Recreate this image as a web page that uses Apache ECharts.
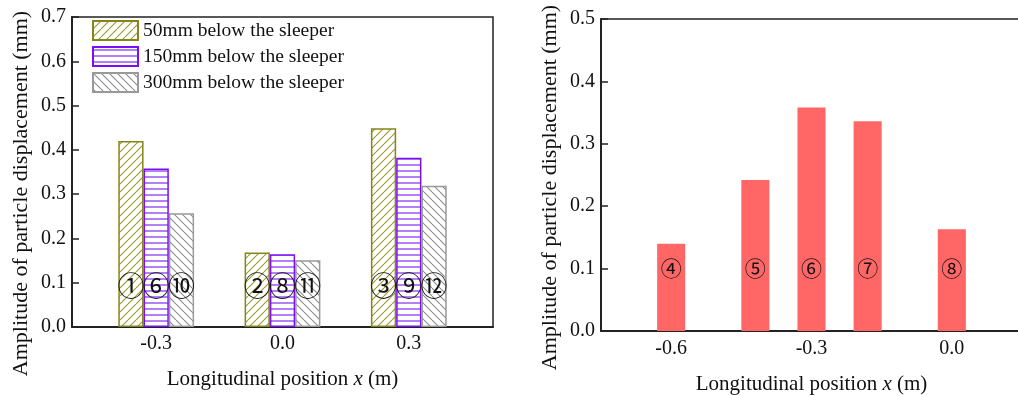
<!DOCTYPE html>
<html>
<head>
<meta charset="utf-8">
<script src="https://cdn.jsdelivr.net/npm/echarts@6/dist/echarts.min.js"></script>
<style>
  html, body { margin: 0; padding: 0; background: #ffffff; }
  #chart { width: 1018px; height: 396px; }
</style>
</head>
<body>
<div id="chart"></div>
<script>
// Left panel: amplitude at three depths for three longitudinal positions
const depthNames = ['50mm below the sleeper', '150mm below the sleeper', '300mm below the sleeper'];
const leftPositions = [-0.3, 0.0, 0.3];
const depth50 = [0.420, 0.168, 0.449];
const depth150 = [0.358, 0.164, 0.382];
const depth300 = [0.257, 0.151, 0.319];
const leftMarks = [['①', '②', '③'], ['⑥', '⑧', '⑨'], ['⑩', '⑪', '⑫']];
const leftTickLabels = [-0.3, 0.0, 0.3];

// Right panel: amplitude at 150mm depth along the track
const rightPositions = [-0.6, -0.42, -0.3, -0.18, 0.0];
const rightValues = [0.140, 0.242, 0.358, 0.336, 0.163];
const rightMarks = ['④', '⑤', '⑥', '⑦', '⑧'];
const rightTickLabels = [-0.6, -0.3, 0.0];

const serif = '"Liberation Serif", "Times New Roman", serif';
const markFont = '"Noto Sans CJK SC", "DejaVu Sans", sans-serif';
const ink = '#111111';

// Tiled hatch fills used as bar colours
function hatch(kind, color, size, lineWidth) {
  const c = document.createElement('canvas');
  c.width = size; c.height = size;
  const g = c.getContext('2d');
  g.fillStyle = '#ffffff';
  g.fillRect(0, 0, size, size);
  g.strokeStyle = color;
  g.lineWidth = lineWidth;
  g.beginPath();
  if (kind === '/') {
    for (const x0 of [-size, 0, size]) { g.moveTo(x0, size); g.lineTo(x0 + size, 0); }
  } else if (kind === '\\') {
    for (const x0 of [-size, 0, size]) { g.moveTo(x0, 0); g.lineTo(x0 + size, size); }
  } else {
    g.moveTo(0, size / 2); g.lineTo(size, size / 2);
  }
  g.stroke();
  return { image: c, repeat: 'repeat' };
}

const styles = [
  { fill: hatch('/', '#9a9a30', 8, 1.1), border: '#85851a' },
  { fill: hatch('-', '#8a3cf5', 6, 1.3), border: '#7a10f0' },
  { fill: hatch('\\', '#8c8c8c', 8, 1.1), border: '#999999' }
];

function tickFormatter(ticks) {
  return function (v) {
    const t = ticks.find(function (t) { return Math.abs(t - v) < 1e-6; });
    return t === undefined ? '' : t.toFixed(1);
  };
}

function xAxis(gridIndex, min, max, interval, ticks, nameGap, margin) {
  return {
    type: 'value', gridIndex: gridIndex, min: min, max: max, interval: interval,
    name: 'Longitudinal position {i|x} (m)', nameLocation: 'middle', nameGap: nameGap,
    nameTextStyle: {
      fontFamily: serif, fontSize: 21, color: ink,
      rich: { i: { fontFamily: serif, fontSize: 21, fontStyle: 'italic', color: ink } }
    },
    axisLine: { show: true, onZero: false, lineStyle: { color: '#222222', width: 2 } },
    axisTick: { show: false },
    splitLine: { show: false },
    axisLabel: { margin: margin, fontFamily: serif, fontSize: 20, color: ink, formatter: tickFormatter(ticks) }
  };
}

function yAxis(gridIndex, max, nameGap, namePad) {
  return {
    type: 'value', gridIndex: gridIndex, min: 0, max: max, interval: 0.1,
    name: 'Amplitude of particle displacement (mm)', nameLocation: 'middle', nameGap: nameGap,
    nameTextStyle: { fontFamily: serif, fontSize: 22, color: ink, padding: [0, namePad, 0, 0] },
    axisLine: { show: true, onZero: false, lineStyle: { color: '#222222', width: 2 } },
    axisTick: { show: true, inside: true, length: 7, lineStyle: { color: '#222222', width: 1.5 } },
    splitLine: { show: false },
    axisLabel: { margin: 6, fontFamily: serif, fontSize: 20, color: ink,
      formatter: function (v) { return (Math.round(v * 10) / 10).toFixed(1); } }
  };
}

function depthSeries(i, values) {
  return {
    name: depthNames[i], type: 'bar', xAxisIndex: 0, yAxisIndex: 0,
    data: leftPositions.map(function (x, k) { return [x, values[k]]; }),
    barWidth: '20%', barGap: '0%',
    itemStyle: { color: styles[i].fill, borderColor: styles[i].border, borderWidth: 1.5 },
    label: {
      show: true, position: 'insideBottom', distance: 28,
      formatter: function (p) { return leftMarks[i][p.dataIndex]; },
      fontFamily: markFont, fontSize: 27, lineHeight: 27, color: ink
    },
    emphasis: { disabled: true }
  };
}

const chart = echarts.init(document.getElementById('chart'), null, { renderer: 'canvas' });
chart.setOption({
  animation: false,
  backgroundColor: '#ffffff',
  grid: [
    { left: 72, top: 17, width: 421, height: 310, containLabel: false, outerBoundsMode: 'none',
      show: true, borderColor: '#222222', borderWidth: 1.5, backgroundColor: 'transparent' },
    { left: 601, top: 19, width: 421, height: 312, containLabel: false, outerBoundsMode: 'none',
      show: true, borderColor: '#222222', borderWidth: 1.5, backgroundColor: 'transparent' }
  ],
  xAxis: [
    xAxis(0, -0.5, 0.5, 0.1, leftTickLabels, 42, 7),
    xAxis(1, -0.75, 0.15, 0.15, rightTickLabels, 43, 8)
  ],
  yAxis: [
    yAxis(0, 0.7, 40, 43),
    yAxis(1, 0.5, 40, 25)
  ],
  legend: {
    data: depthNames, orient: 'vertical', left: 92, top: 20, padding: 0,
    itemWidth: 45, itemHeight: 19, itemGap: 5, icon: 'rect', selectedMode: false,
    textStyle: { fontFamily: serif, fontSize: 19.5, color: ink }
  },
  series: [
    depthSeries(0, depth50),
    depthSeries(1, depth150),
    depthSeries(2, depth300),
    {
      name: 'position', type: 'bar', xAxisIndex: 1, yAxisIndex: 1,
      data: rightPositions.map(function (x, k) { return [x, rightValues[k]]; }),
      barWidth: '50%',
      itemStyle: { color: '#ff6666' },
      label: {
        show: true, position: 'insideBottom', distance: 52,
        formatter: function (p) { return rightMarks[p.dataIndex]; },
        fontFamily: markFont, fontSize: 21, lineHeight: 21, color: ink
      },
      emphasis: { disabled: true }
    }
  ]
});
</script>
</body>
</html>
